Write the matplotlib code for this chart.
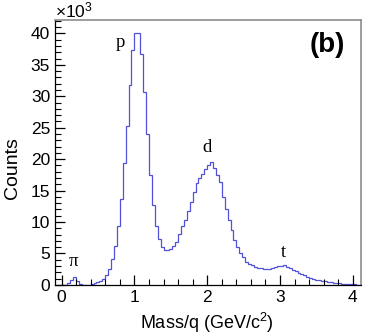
import numpy as np
import matplotlib
matplotlib.use("Agg")
import matplotlib.pyplot as plt
from matplotlib.ticker import MultipleLocator

# Histogram: Mass/q in bins of 0.04 GeV/c^2 starting at 0, counts in units of 10^3
bin_start = 0.0
bin_width = 0.04
counts_k = [
    0.0, 0.05, 0.3, 0.8, 1.2, 0.6, 0.15, 0.05, 0.02, 0.05,          # 0.00-0.40
    0.1, 0.25, 0.45, 0.65, 1.0, 1.6, 2.6, 4.1, 6.2, 9.4,            # 0.40-0.80
    13.6, 19.4, 25.3, 31.8, 37.4, 40.1, 40.0, 36.7, 30.7, 24.0,     # 0.80-1.20
    17.5, 12.7, 9.4, 7.3, 6.1, 5.6, 5.6, 5.7, 6.2, 6.9,             # 1.20-1.60
    8.1, 9.3, 10.4, 11.8, 13.2, 14.8, 16.2, 17.0, 17.6, 18.4,       # 1.60-2.00
    19.0, 19.5, 18.6, 17.5, 16.3, 14.0, 12.0, 10.3, 8.7, 7.2,       # 2.00-2.40
    6.1, 5.0, 4.4, 3.7, 3.3, 3.1, 2.9, 2.75, 2.65, 2.55,            # 2.40-2.80
    2.5, 2.55, 2.65, 2.8, 2.95, 3.05, 3.1, 2.9, 2.7, 2.45,          # 2.80-3.20
    2.2, 1.95, 1.7, 1.5, 1.3, 1.15, 1.0, 0.85, 0.75, 0.65,          # 3.20-3.60
    0.55, 0.48, 0.4, 0.33, 0.28, 0.23, 0.19, 0.15, 0.12, 0.1,       # 3.60-4.00
    0.08, 0.06, 0.05,                                               # 4.00-4.12
]
particle_labels = ["π", "p", "d", "t"]
label_x = [0.17, 0.81, 2.0, 3.04]
label_y = [3.8, 38.6, 21.9, 5.1]

plt.rcParams['font.family'] = ['Liberation Sans', 'DejaVu Sans']
plt.rcParams['mathtext.fontset'] = 'custom'
plt.rcParams['mathtext.rm'] = 'Liberation Sans'
plt.rcParams['mathtext.it'] = 'Liberation Sans:italic'
plt.rcParams['mathtext.bf'] = 'Liberation Sans:bold'

fig = plt.figure(figsize=(3.74, 3.36), dpi=100)
ax = fig.add_axes([0.147, 0.152, 0.818, 0.788])

n = len(counts_k)
edges = bin_start + bin_width * np.arange(n + 1)
ax.stairs(counts_k, edges, color="#5050d8", linewidth=0.9)

ax.set_xlim(-0.09, 4.11)
ax.set_ylim(0, 42.1)

ax.xaxis.set_major_locator(MultipleLocator(1))
ax.xaxis.set_minor_locator(MultipleLocator(0.2))
ax.yaxis.set_major_locator(MultipleLocator(5))
ax.yaxis.set_minor_locator(MultipleLocator(1))

ax.tick_params(which='both', direction='in', top=False, right=False, labelsize=12.5)
ax.tick_params(which='major', length=7.5, width=0.9)
ax.tick_params(which='minor', length=4, width=0.8)
ax.tick_params(axis='y', pad=3.5)
ax.tick_params(axis='x', pad=4)

for s in ['top', 'right']:
    ax.spines[s].set_color('#8c8c8c')
    ax.spines[s].set_linewidth(1.2)
for s in ['left', 'bottom']:
    ax.spines[s].set_color('black')
    ax.spines[s].set_linewidth(0.9)

ax.set_xlabel("Mass/q (GeV/c$\\mathrm{^2}$)", fontsize=13)
ax.xaxis.label.set_va('center')
ax.xaxis.set_label_coords(0.496, -0.143)
ax.set_ylabel("Counts", fontsize=14)
ax.yaxis.label.set_va('center')
ax.yaxis.set_label_coords(-0.14, 0.44)

ax.text(0.0, 1.0, "×10$\\mathrm{^3}$", transform=ax.transAxes, ha='left', va='bottom', fontsize=12.5)
ax.text(0.89, 0.905, "(b)", transform=ax.transAxes, ha='center', va='center',
        fontsize=20, fontweight='bold')

for lab, x, y in zip(particle_labels, label_x, label_y):
    ax.text(x, y, lab, ha='center', va='center', fontsize=13.5,
            family=['Liberation Serif', 'DejaVu Serif'])

fig.savefig("out.png", dpi=100)
